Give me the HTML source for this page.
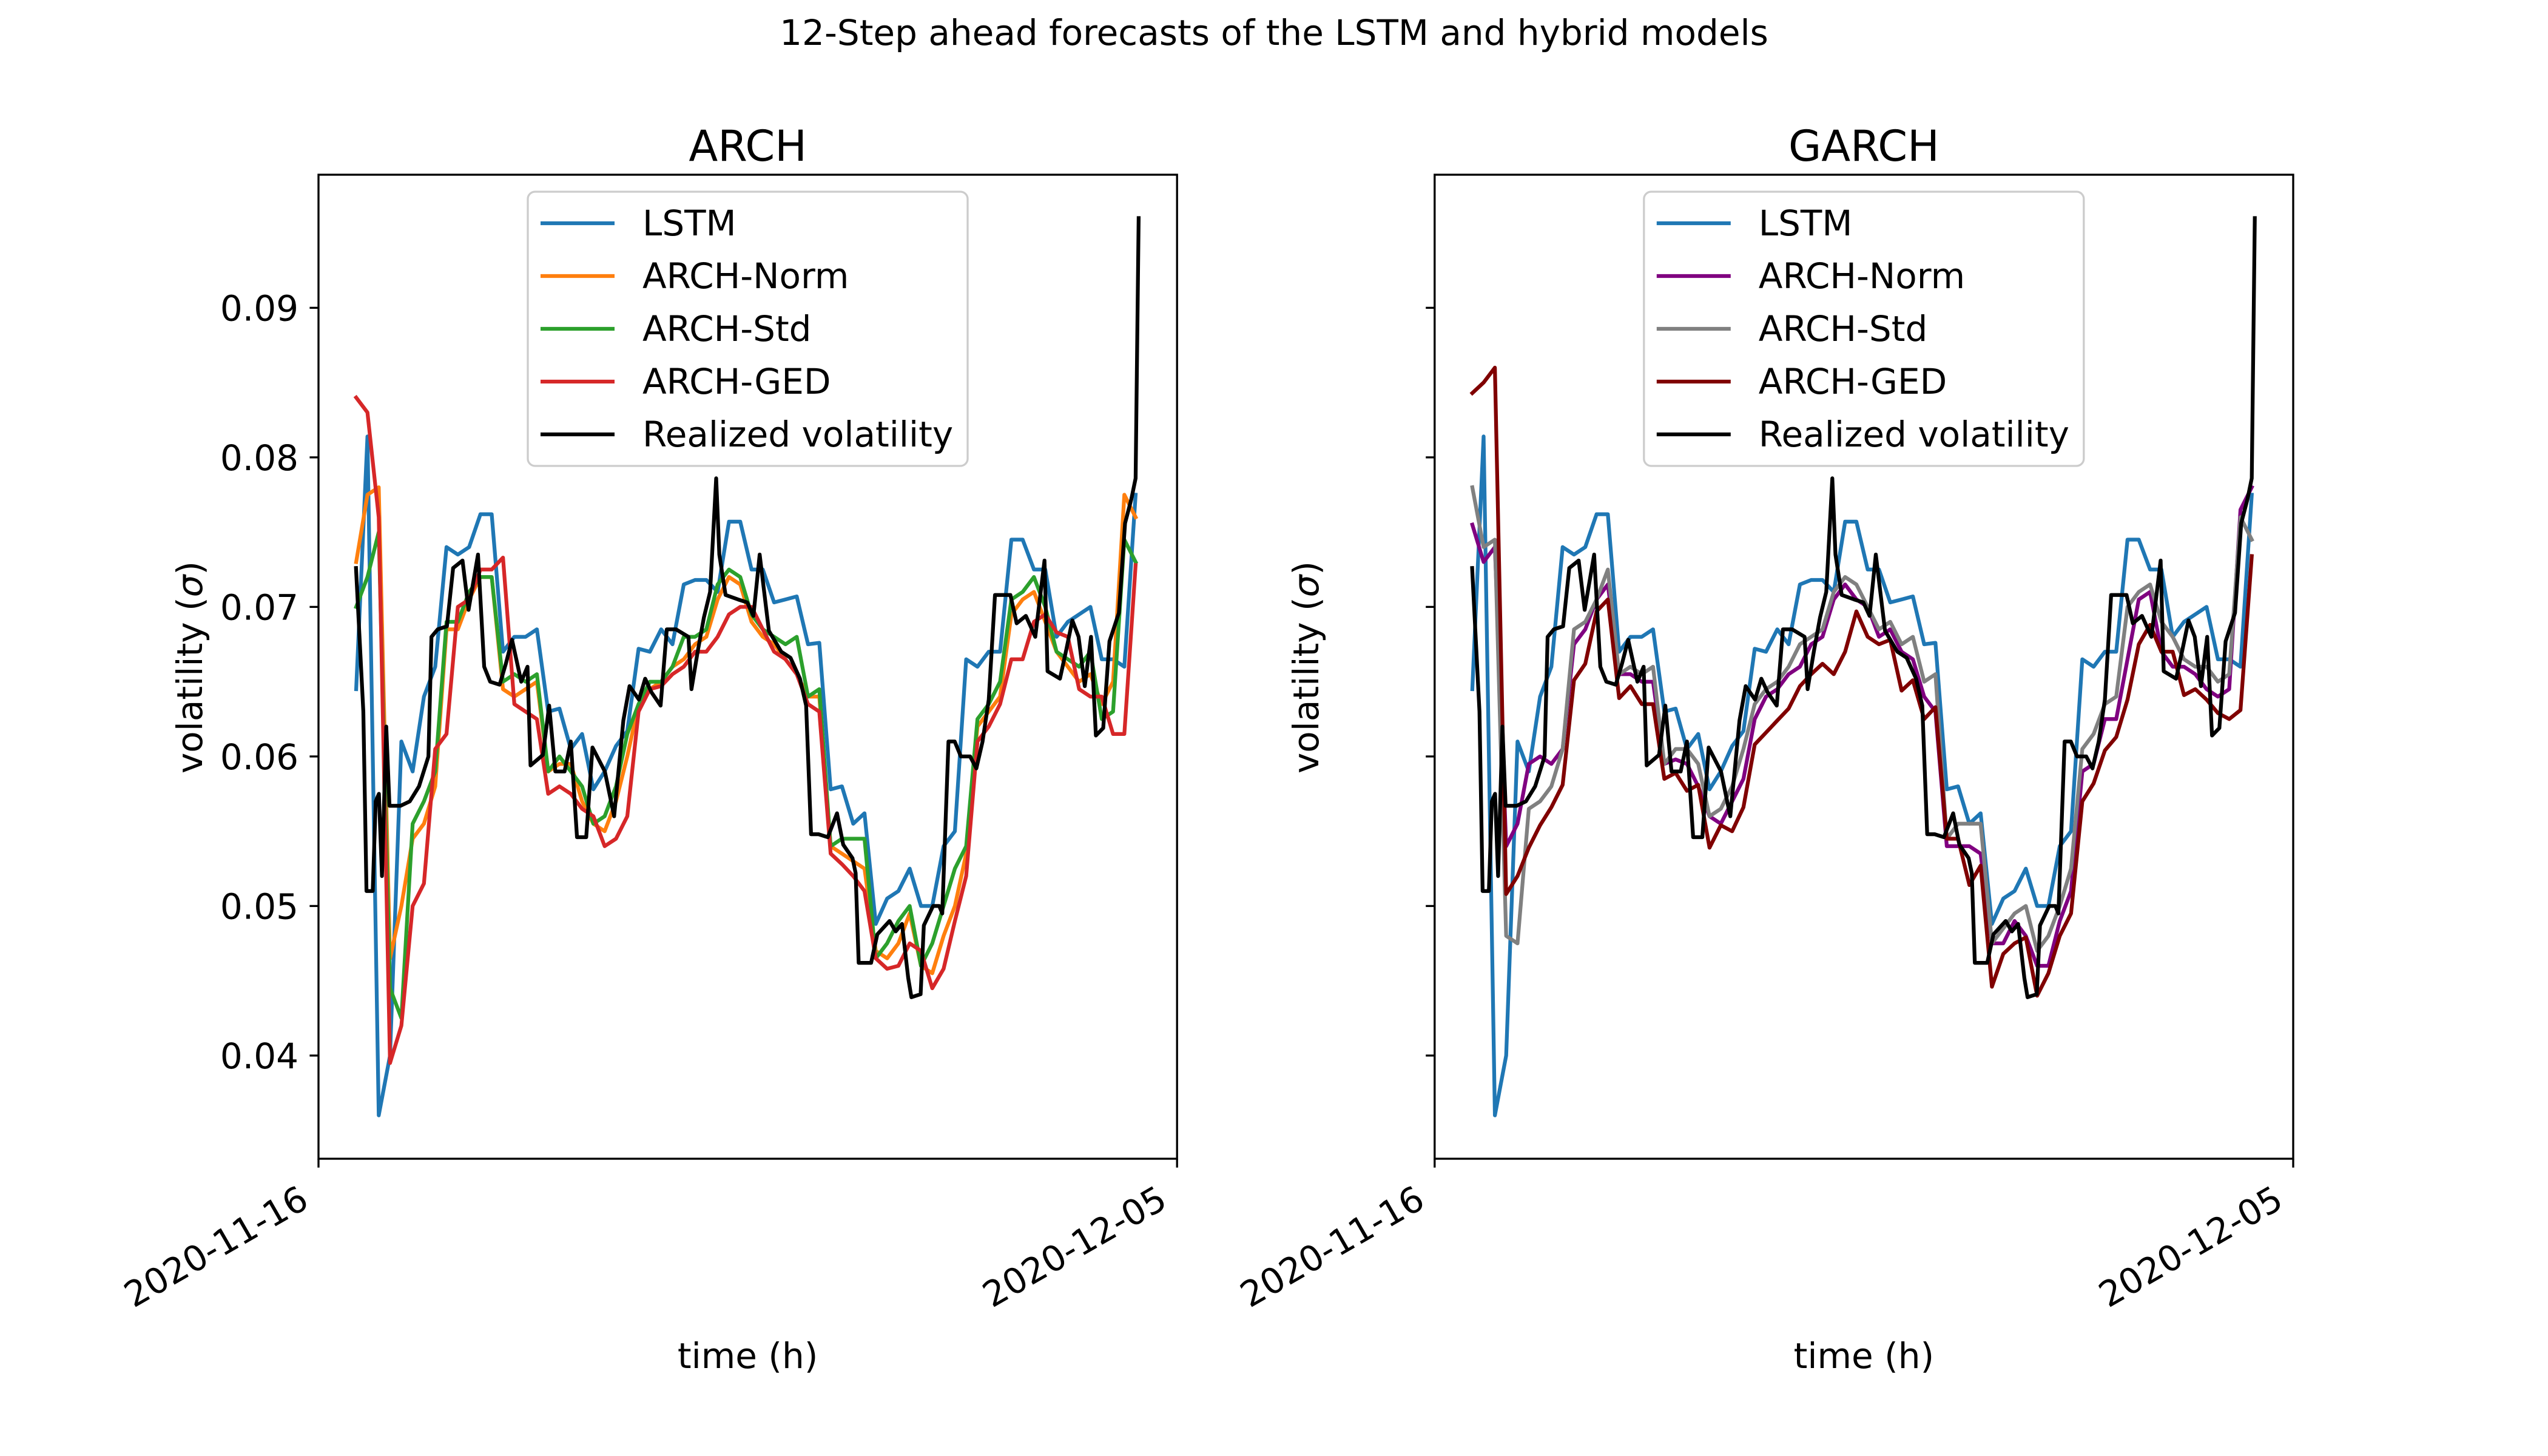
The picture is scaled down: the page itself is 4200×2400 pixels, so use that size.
<!DOCTYPE html>
<html><head><meta charset="utf-8">
<style>
html,body{margin:0;padding:0;background:#fff;}
svg{display:block;font-family:"DejaVu Sans","Liberation Sans",sans-serif;}
</style></head>
<body>
<svg id="fig" width="4200" height="2400" viewBox="0 0 4200 2400" xmlns="http://www.w3.org/2000/svg">
<rect x="0" y="0" width="4200" height="2400" fill="#fff"/>
<text x="2100" y="74" font-size="58" text-anchor="middle">12-Step ahead forecasts of the LSTM and hybrid models</text>
</svg>
<script>
// ---- data ----
const gridHours = [20,26,32,38,44,50,56,62,68,74,80,86,92,98,104,110,116,122,128,134,140,146,152,158,164,170,176,182,188,194,200,206,212,218,224,230,236,242,248,254,260,266,272,278,284,290,296,302,308,314,320,326,332,338,344,350,356,362,368,374,380,386,392,398,404,410,416,422,428,434];
const lstm = [.0645,.0814,.036,.040,.061,.059,.064,.066,.074,.0735,.074,.0762,.0762,.067,.068,.068,.0685,.063,.0632,.0605,.0615,.0578,.059,.0607,.0617,.0672,.067,.0685,.0675,.0715,.0718,.0718,.071,.0757,.0757,.0725,.0725,.0703,.0705,.0707,.0675,.0676,.0578,.058,.0555,.0562,.0488,.0505,.051,.0525,.050,.050,.054,.055,.0665,.066,.067,.067,.0745,.0745,.0725,.0725,.068,.069,.0695,.070,.0665,.0665,.066,.0775];
const archNorm = [.073,.0775,.078,.0465,.050,.0545,.0555,.058,.0685,.0685,.0705,.072,.072,.0645,.064,.0645,.065,.059,.0595,.0595,.057,.0555,.055,.057,.060,.0635,.0645,.065,.066,.0665,.0675,.068,.0705,.072,.0715,.069,.068,.0675,.0665,.0655,.064,.064,.054,.0535,.053,.0525,.047,.0465,.0475,.0495,.046,.0455,.048,.050,.0535,.062,.063,.064,.0695,.0705,.071,.069,.067,.066,.065,.0655,.0635,.065,.0775,.076];
const archStd = [.070,.072,.075,.0445,.0425,.0555,.057,.059,.069,.069,.071,.072,.072,.065,.0655,.065,.0655,.059,.060,.059,.058,.0555,.056,.058,.0615,.0635,.065,.065,.066,.068,.068,.0685,.0715,.0725,.072,.0695,.0685,.068,.0675,.068,.064,.0645,.054,.0545,.0545,.0545,.0465,.0475,.049,.050,.046,.0475,.050,.0525,.054,.0625,.0635,.065,.0705,.071,.072,.070,.067,.0665,.066,.067,.0625,.063,.0745,.073];
const archGed = [.084,.083,.076,.0395,.042,.050,.0515,.0605,.0615,.070,.0705,.0725,.0725,.0733,.0635,.063,.0625,.0575,.058,.0575,.0565,.056,.054,.0545,.056,.063,.0645,.0647,.0655,.066,.067,.067,.068,.0695,.070,.070,.0685,.067,.0665,.0655,.0635,.063,.0535,.0528,.052,.051,.0465,.0458,.046,.0475,.047,.0445,.0458,.049,.052,.061,.062,.0635,.0665,.0665,.069,.0695,.0683,.068,.0645,.064,.064,.0615,.0615,.0728];
const garchNorm = [.0755,.073,.074,.054,.0555,.0595,.060,.0595,.0605,.0675,.0685,.0705,.0715,.0655,.0655,.065,.065,.0595,.0598,.0595,.058,.056,.0555,.057,.0585,.0625,.064,.0645,.0655,.066,.0675,.068,.0705,.0715,.0705,.070,.068,.0685,.067,.0665,.064,.063,.054,.054,.054,.0535,.0475,.0475,.049,.048,.046,.046,.049,.051,.059,.0595,.0625,.0625,.0665,.0705,.071,.067,.066,.066,.0655,.0645,.064,.0645,.0765,.078];
const garchStd = [.078,.074,.0745,.048,.0475,.0565,.057,.058,.0605,.0685,.069,.0705,.0725,.0655,.066,.0655,.066,.0595,.0605,.0605,.0595,.056,.0565,.058,.0605,.0635,.0645,.065,.066,.0675,.068,.0685,.071,.072,.0715,.070,.0685,.069,.0675,.068,.065,.0655,.0545,.0555,.0555,.0555,.0475,.0485,.0495,.050,.047,.048,.050,.0525,.0605,.0615,.0635,.064,.070,.071,.0715,.069,.068,.0665,.066,.066,.065,.0655,.076,.0745];
const garchGed = [.0843,.085,.086,.0508,.052,.0539,.0554,.0566,.0581,.0651,.0662,.0697,.0705,.0639,.0647,.0635,.0635,.0585,.0589,.0577,.0581,.0539,.0554,.055,.0566,.0608,.0616,.0624,.0632,.0647,.0655,.0662,.0655,.067,.0697,.068,.0675,.0678,.0644,.0651,.0625,.0633,.0545,.0545,.0514,.0527,.0446,.0468,.0475,.0479,.044,.0455,.048,.0495,.057,.0582,.0604,.0613,.0638,.0675,.0688,.067,.067,.0641,.0645,.0638,.0629,.0625,.0631,.0734];
const rvHours = [19.9,23.8,25.5,28.8,30.4,32.1,33.7,36.0,37.7,43.6,48.5,53.4,58.4,60.0,63.3,68.2,71.5,76.5,79.7,84.7,88.0,91.2,96.2,99.5,102.8,107.7,111.0,112.6,119.2,122.5,125.8,130.7,134.0,137.3,142.2,145.5,152.1,157.0,161.9,165.2,170.2,173.5,176.8,181.7,185.0,189.9,196.5,198.1,201.4,204.7,208.0,211.2,212.9,216.2,222.8,227.7,231.0,234.3,239.2,245.8,250.7,255.7,259.0,261.6,265.6,270.5,275.4,278.7,283.6,285.3,286.9,293.5,296.8,303.3,306.6,309.9,313.2,314.9,319.8,321.5,326.4,329.7,331.3,334.6,337.9,341.2,346.1,349.4,352.7,356.0,359.3,362.6,367.5,370.8,375.7,380.7,385.6,387.2,393.8,397.1,400.4,403.7,407.0,410.3,412.9,416.8,420.1,425.1,428.4,431.7,434.0,435.6];
const realized = [.0726,.063,.051,.051,.057,.0575,.052,.062,.0567,.0567,.057,.058,.060,.068,.0685,.0687,.0726,.0731,.0698,.0735,.066,.065,.0648,.0662,.0678,.065,.066,.0594,.0601,.0634,.059,.059,.061,.0546,.0546,.0606,.059,.056,.0624,.0647,.0638,.0652,.0643,.0634,.0685,.0685,.068,.0645,.067,.0693,.071,.0786,.0735,.0708,.0705,.0703,.0694,.0735,.0684,.067,.0666,.0652,.0634,.0548,.0548,.0546,.0562,.0541,.0532,.0522,.0462,.0462,.0481,.049,.0483,.0488,.0452,.0439,.0441,.0487,.050,.050,.0495,.061,.061,.060,.060,.0592,.061,.0638,.0708,.0708,.0708,.0689,.0694,.068,.0731,.0657,.0652,.0671,.0691,.068,.0647,.068,.0614,.0619,.0677,.0696,.0756,.0772,.0786,.096];
const yTicks = [0.04,0.05,0.06,0.07,0.08,0.09];
const yTickLabels = ["0.04","0.05","0.06","0.07","0.08","0.09"];
const xTickHours = [0,456];
const xTickLabels = ["2020-11-16","2020-12-05"];
const panelTitles = ["ARCH","GARCH"];
const legendLabels = ["LSTM","ARCH-Norm","ARCH-Std","ARCH-GED","Realized volatility"];

// ---- layout ----
const NS='http://www.w3.org/2000/svg';
const svg=document.getElementById('fig');
const AX_TOP=288, AX_BOT=1910, AX_W=1415.2;
const AX_LEFTS=[525,2364.8];
const Y0=0.0331, Y1=0.0989, X0=0, X1=456;
function mk(tag,attrs,parent){const e=document.createElementNS(NS,tag);for(const k in attrs)e.setAttribute(k,attrs[k]);(parent||svg).appendChild(e);return e;}
function yScale(v){return AX_BOT-(v-Y0)/(Y1-Y0)*(AX_BOT-AX_TOP);}

const panels=[
 {series:[[gridHours,lstm,'#1f77b4','lstm-line'],[gridHours,archNorm,'#ff7f0e','arch-norm-line'],[gridHours,archStd,'#2ca02c','arch-std-line'],[gridHours,archGed,'#d62728','arch-ged-line'],[rvHours,realized,'#000000','realized-volatility-line']],yLabels:true,key:'arch'},
 {series:[[gridHours,lstm,'#1f77b4','lstm-line'],[gridHours,garchNorm,'#800080','garch-norm-line'],[gridHours,garchStd,'#808080','garch-std-line'],[gridHours,garchGed,'#800000','garch-ged-line'],[rvHours,realized,'#000000','realized-volatility-line']],yLabels:false,key:'garch'}
];

panels.forEach((p,pi)=>{
  const L=AX_LEFTS[pi];
  const xScale=h=>L+(h-X0)/(X1-X0)*AX_W;
  const g=mk('g',{});
  
  
  const clipId='clip'+pi;
  const cp=mk('clipPath',{id:clipId},g);
  mk('rect',{x:L,y:AX_TOP,width:AX_W,height:AX_BOT-AX_TOP},cp);
  const lg=mk('g',{'clip-path':'url(#'+clipId+')'},g);
  p.series.forEach(s=>{
    const [hs,vs,col,name]=s;
    const d=hs.map((h,i)=>(i?'L':'M')+xScale(h).toFixed(1)+','+yScale(vs[i]).toFixed(1)).join('');
    const path=mk('path',{d:d,fill:'none',stroke:col,'stroke-width':6.25,'stroke-linejoin':'round','stroke-linecap':'square'},lg);
    
    
  });
  const fr=mk('rect',{x:L,y:AX_TOP,width:AX_W,height:AX_BOT-AX_TOP,fill:'none',stroke:'#000','stroke-width':3.33},g);
  
  
  yTicks.forEach((v,i)=>{
    const y=yScale(v);
    const t=mk('line',{x1:L-14.6,x2:L,y1:y,y2:y,stroke:'#000','stroke-width':3.33},g);
    
    
    if(p.yLabels){
      const tx=mk('text',{x:L-33,y:y+21,'font-size':58,'text-anchor':'end'},g);
      tx.textContent=yTickLabels[i];
      
      
    }
  });
  xTickHours.forEach((h,i)=>{
    const x=xScale(h);
    const t=mk('line',{x1:x,x2:x,y1:AX_BOT,y2:AX_BOT+14.6,stroke:'#000','stroke-width':3.33},g);
    
    
    const px=x-13, py=AX_BOT+78;
    const tx=mk('text',{x:px,y:py,'font-size':58,'text-anchor':'end',transform:'rotate(-30 '+px+' '+py+')'},g);
    tx.textContent=xTickLabels[i];
    
    
  });
  const cx=L+AX_W/2;
  const tt=mk('text',{x:cx,y:265,'font-size':70,'text-anchor':'middle'},g);
  tt.textContent=panelTitles[pi];
  
  
  const xl=mk('text',{x:cx,y:2255,'font-size':58,'text-anchor':'middle'},g);
  xl.textContent='time (h)';
  
  
  const ylx=L-192, yly=1100;
  const yl=mk('text',{x:ylx,y:yly,'font-size':58,'text-anchor':'middle',transform:'rotate(-90 '+ylx+' '+yly+')'},g);
  
  
  yl.appendChild(document.createTextNode('volatility ('));
  const sg=mk('tspan',{'font-style':'italic'},yl); sg.textContent='σ';
  yl.appendChild(document.createTextNode(')'));
  const lx=L+345, ly=316;
  const leg=mk('g',{},g);
  
  
  mk('rect',{x:lx,y:ly,width:725,height:452,rx:12,fill:'#fff','fill-opacity':0.8,stroke:'#cccccc','stroke-width':3.3},leg);
  p.series.forEach((s,i)=>{
    const yy=368+i*87;
    const e=mk('g',{},leg);
    
    
    mk('line',{x1:lx+21,x2:lx+143,y1:yy,y2:yy,stroke:s[2],'stroke-width':6.25},e);
    const t=mk('text',{x:lx+189,y:yy+20,'font-size':58},e);
    t.textContent=legendLabels[i];
  });
});
</script>
</body></html>
